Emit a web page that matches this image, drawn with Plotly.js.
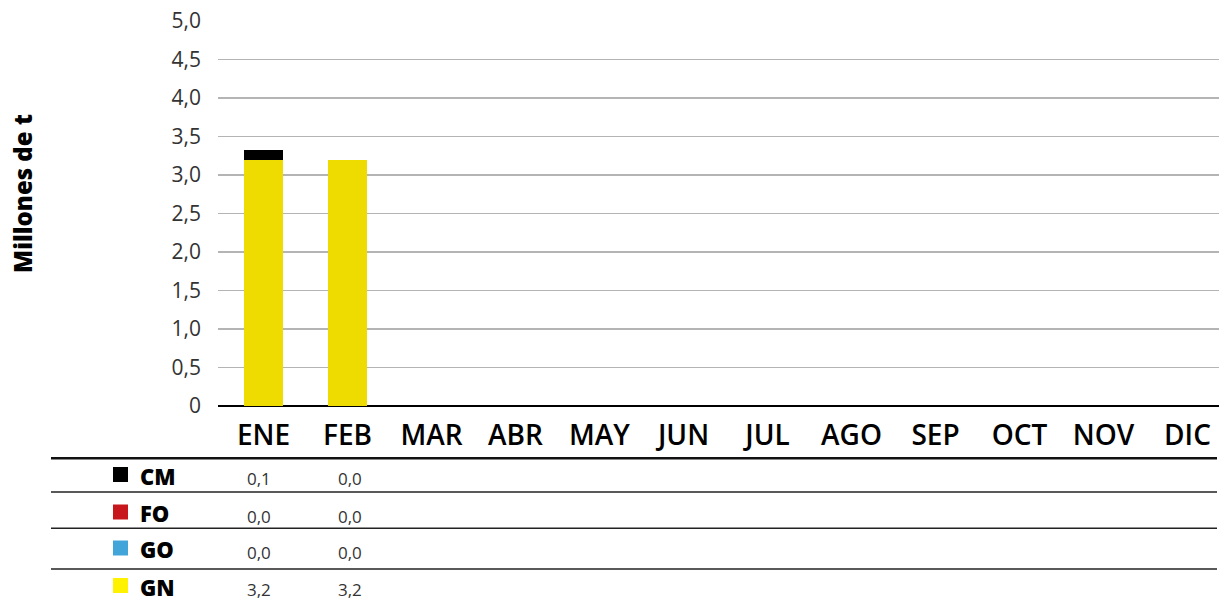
<!DOCTYPE html>
<html>
<head>
<meta charset="utf-8">
<script src="https://cdn.plot.ly/plotly-3.0.1.min.js"></script>
<style>html,body{margin:0;padding:0;background:#fff;}#chart{width:1219px;height:602px;}</style>
</head>
<body>
<div id="chart"></div>
<script>
// ---- data ----
const months = ["ENE","FEB","MAR","ABR","MAY","JUN","JUL","AGO","SEP","OCT","NOV","DIC"];
const seriesNames = ["CM","FO","GO","GN"];
const cm = [0.13, 0.0];
const fo = [0.0, 0.0];
const go = [0.0, 0.0];
const gn = [3.19, 3.19];
const yTickVals = [0,0.5,1,1.5,2,2.5,3,3.5,4,4.5,5];
const yTickText = ["0","0,5","1,0","1,5","2,0","2,5","3,0","3,5","4,0","4,5","5,0"];
const yTitle = "Millones de t";

// ---- styling ----
const barColors = {CM:"#000000", FO:"#C8161D", GO:"#41A5DA", GN:"#EEDB00"};
const legendColors = {CM:"#000000", FO:"#C8161D", GO:"#41A5DA", GN:"#FFF200"};
const W = 1219, H = 602;
const M = {l:218, r:0, t:21, b:196};
const plotW = W - M.l - M.r, plotH = H - M.t - M.b;
const px = x => (x - M.l) / plotW;
const py = y => (H - M.b - y) / plotH;
const catW = 84, firstCenter = 263.5;
const xr0 = -(firstCenter - M.l) / catW;
const xr1 = xr0 + plotW / catW;

const values = {CM:cm, FO:fo, GO:go, GN:gn};
const stackOrder = ["GN","GO","FO","CM"];
const traces = stackOrder.map(n => ({
  type:"bar", name:n, x: months.slice(0, values[n].length), y: values[n],
  marker:{color:barColors[n]}, width:0.464, hoverinfo:"x+y+name"
}));

const fmt = v => v.toFixed(1).replace(".", ",");
const shapes = [];
const annotations = [];
// y title
annotations.push({xref:"paper", yref:"paper", x:px(22), y:py(194),
  xanchor:"center", yanchor:"middle", showarrow:false, textangle:-90, text:yTitle,
  font:{family:"Open Sans, sans-serif", size:24, weight:800, color:"#000"}});
// table lines
const lineYs = [458.3, 492, 528.3, 569];
lineYs.forEach((y,i) => shapes.push({type:"line", xref:"paper", yref:"paper",
  x0:px(51), x1:px(1217), y0:py(y), y1:py(y),
  line:{color:i===0?"#111":"#222", width:i===0?2.5:1.6}}));
const rowY = {CM:474.5, FO:512, GO:548, GN:585.5};
const colShift = [-5, 2];
seriesNames.forEach(n => {
  const yc = rowY[n];
  shapes.push({type:"rect", xref:"paper", yref:"paper",
    x0:px(113), x1:px(128), y0:py(yc-7.5), y1:py(yc+7.5),
    line:{width:0}, fillcolor:legendColors[n]});
  annotations.push({xref:"paper", yref:"paper", x:px(138), y:py(yc+1),
    xanchor:"left", yanchor:"middle", showarrow:false, text:n,
    font:{family:"Open Sans, Lato, sans-serif", size:22, weight:800, color:"#000"}});
  values[n].forEach((v,i) => annotations.push({xref:"x", yref:"paper",
    x:months[i], y:py(yc+4), xanchor:"center", yanchor:"middle", showarrow:false,
    xshift:colShift[i] || 0,
    text:fmt(v), font:{family:"Open Sans, Lato, sans-serif", size:17, color:"#333"}}));
});

const layout = {
  width:W, height:H, margin:M, barmode:"stack", showlegend:false,
  paper_bgcolor:"#fff", plot_bgcolor:"#fff", bargap:0.5,
  xaxis:{type:"category", categoryorder:"array", categoryarray:months,
    range:[xr0, xr1], showgrid:false, zeroline:false, showline:false,
    ticks:"", ticklabelstandoff:10, tickvals:months, ticktext:months,
    tickfont:{family:"Open Sans, sans-serif", size:28, weight:600, color:"#000"},
    fixedrange:true},
  yaxis:{range:[0,5], tickvals:yTickVals, ticktext:yTickText,
    showgrid:true, gridcolor:"#b4b4b4", gridwidth:1.2,
    zeroline:true, zerolinecolor:"#000", zerolinewidth:2.5,
    showline:false, ticks:"", ticklabelstandoff:16,
    tickfont:{family:"Open Sans, sans-serif", size:21, color:"#333"},
    fixedrange:true},
  shapes:shapes, annotations:annotations
};
Plotly.newPlot("chart", traces, layout, {displayModeBar:false, staticPlot:true});
</script>
</body>
</html>
